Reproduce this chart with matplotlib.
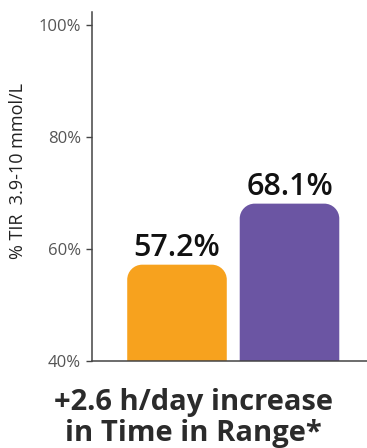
import matplotlib.pyplot as plt
from matplotlib.path import Path
from matplotlib.patches import PathPatch

plt.rcParams['font.family'] = ['Open Sans', 'DejaVu Sans']

groups = ["Before", "After"]
tir_values = [57.2, 68.1]
bar_labels = ["57.2%", "68.1%"]
bar_colors = ["#F7A21E", "#6B55A3"]
y_ticks = [40, 60, 80, 100]
y_tick_labels = ["40%", "60%", "80%", "100%"]

W, H = 367, 448
fig = plt.figure(figsize=(W / 100, H / 100), dpi=100)
ax = fig.add_axes([92 / W, 1 - 361 / H, 275 / W, 349 / H])

ymin, ymax = 40, 40 + 349 / 5.6
xmin = -85 / 112.5
xmax = xmin + 275 / 112.5
ax.set_xlim(xmin, xmax)
ax.set_ylim(ymin, ymax)

bar_w = 0.885
r_px = 15
rx = r_px * (xmax - xmin) / 275
ry = r_px * (ymax - ymin) / 349


def rounded_top_bar(x, top, color):
    l, r = x - bar_w / 2, x + bar_w / 2
    k = 0.5523
    verts = [
        (l, ymin), (l, top - ry),
        (l, top - ry + k * ry), (l + rx - k * rx, top), (l + rx, top),
        (r - rx, top),
        (r - rx + k * rx, top), (r, top - ry + k * ry), (r, top - ry),
        (r, ymin), (l, ymin),
    ]
    codes = [Path.MOVETO, Path.LINETO,
             Path.CURVE4, Path.CURVE4, Path.CURVE4,
             Path.LINETO,
             Path.CURVE4, Path.CURVE4, Path.CURVE4,
             Path.LINETO, Path.CLOSEPOLY]
    ax.add_patch(PathPatch(Path(verts, codes), facecolor=color,
                           edgecolor="none", zorder=2))


for i, (v, lab, c) in enumerate(zip(tir_values, bar_labels, bar_colors)):
    rounded_top_bar(i, v, c)
    ax.text(i, v + 1.5, lab, ha="center", va="baseline", fontsize=22,
            fontweight="semibold", color="#111111")

for s in ["top", "right"]:
    ax.spines[s].set_visible(False)
for s in ["left", "bottom"]:
    ax.spines[s].set_color("#444444")
    ax.spines[s].set_linewidth(1.1)

ax.set_yticks(y_ticks)
ax.set_yticklabels(y_tick_labels)
ax.tick_params(axis="y", direction="out", length=4.5, width=1, color="#444444",
               labelsize=12, labelcolor="#555555", pad=3.5)
ax.set_xticks([])

fig.text(18 / W, 1 - 171 / H, "% TIR  3.9-10 mmol/L", rotation=90,
         ha="center", va="center", fontsize=13, color="#222222",
         fontweight="medium")

fig.text(193 / W, 1 - 418 / H, "+2.6 h/day increase\nin Time in Range*",
         ha="center", va="center", fontsize=21, fontweight="bold",
         color="#2b2b2b", linespacing=1.1)

fig.savefig("out.png", dpi=100)
